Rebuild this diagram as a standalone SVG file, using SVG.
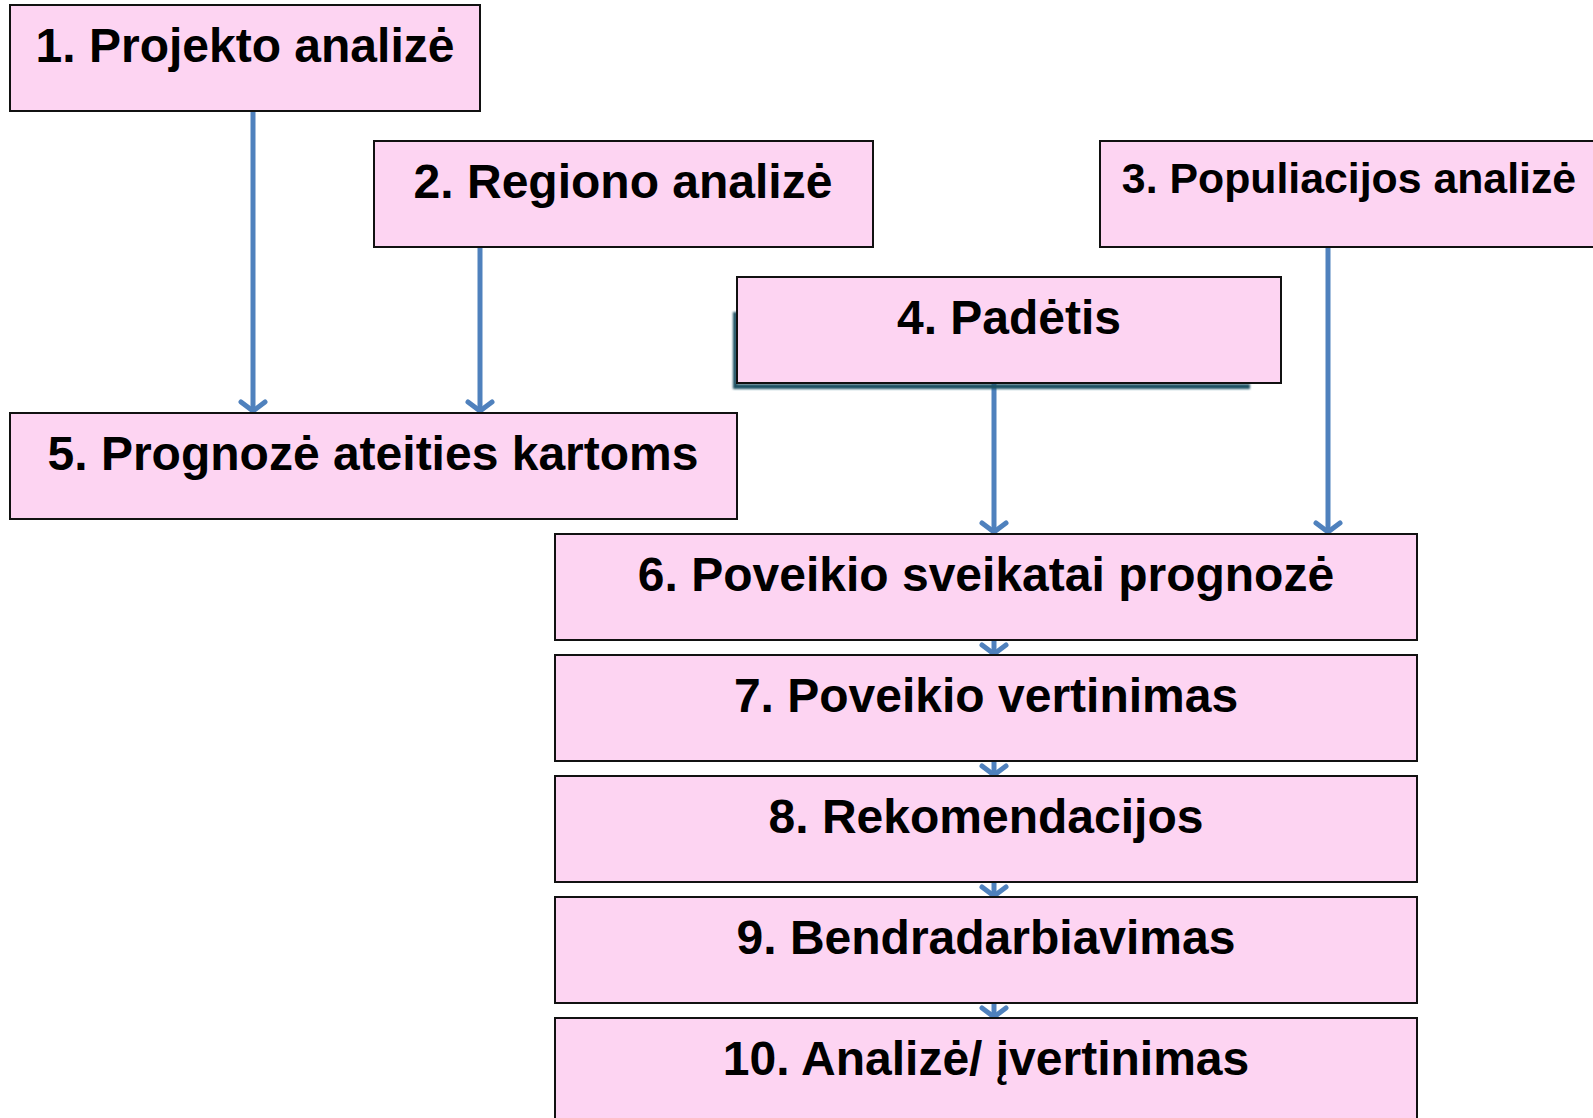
<svg xmlns="http://www.w3.org/2000/svg" width="1593" height="1118" viewBox="0 0 1593 1118">
<style>
.box{fill:#FDD4F2;stroke:#111;stroke-width:2}
.lbl{font-family:"Liberation Sans",Arial,sans-serif;font-weight:bold;font-size:48px;fill:#000;text-anchor:middle}
.con{stroke:#4F81BD;stroke-width:5;fill:none;marker-end:url(#ah)}
</style>
<defs>
<marker id="ah" markerUnits="userSpaceOnUse" viewBox="-16 -16 20 32" markerWidth="20" markerHeight="32" refX="0" refY="0" orient="auto" overflow="visible">
<path d="M-9,-12 L0,0 L-9,12" stroke="#4F81BD" stroke-width="5" stroke-linecap="round" stroke-linejoin="round" fill="none"/>
</marker>
<filter id="blur" x="-5%" y="-20%" width="110%" height="140%"><feGaussianBlur stdDeviation="1.2"/></filter>
</defs>
<rect width="1593" height="1118" fill="#fff"/>
<g id="connectors">
<line class="con" x1="253" y1="111" x2="253" y2="411"/>
<line class="con" x1="480" y1="247" x2="480" y2="411"/>
<line class="con" x1="994" y1="383" x2="994" y2="532"/>
<line class="con" x1="1328" y1="247" x2="1328" y2="532"/>
<line class="con" x1="994" y1="640" x2="994" y2="654"/>
<line class="con" x1="994" y1="761" x2="994" y2="775"/>
<line class="con" x1="994" y1="882" x2="994" y2="896"/>
<line class="con" x1="994" y1="1003" x2="994" y2="1017"/>
</g>
<g id="n1"><rect class="box" x="10" y="5" width="470" height="106"/><text class="lbl" x="245" y="62">1. Projekto analizė</text></g>
<g id="n2"><rect class="box" x="374" y="141" width="499" height="106"/><text class="lbl" x="623" y="198">2. Regiono analizė</text></g>
<g id="n3"><rect class="box" x="1100" y="141" width="500" height="106"/><text class="lbl" x="1349" y="193" style="font-size:42.8px">3. Populiacijos analizė</text></g>
<g id="n4"><path d="M733,312 L733,389 L1250,389 L1250,384 L737,384 L737,312 Z" fill="#1E5163" filter="url(#blur)"/><rect class="box" x="737" y="277" width="544" height="106"/><text class="lbl" x="1009" y="334">4. Padėtis</text></g>
<g id="n5"><rect class="box" x="10" y="413" width="727" height="106"/><text class="lbl" x="373" y="470">5. Prognozė ateities kartoms</text></g>
<g id="n6"><rect class="box" x="555" y="534" width="862" height="106"/><text class="lbl" x="986" y="591">6. Poveikio sveikatai prognozė</text></g>
<g id="n7"><rect class="box" x="555" y="655" width="862" height="106"/><text class="lbl" x="986" y="712">7. Poveikio vertinimas</text></g>
<g id="n8"><rect class="box" x="555" y="776" width="862" height="106"/><text class="lbl" x="986" y="833">8. Rekomendacijos</text></g>
<g id="n9"><rect class="box" x="555" y="897" width="862" height="106"/><text class="lbl" x="986" y="954">9. Bendradarbiavimas</text></g>
<g id="n10"><rect class="box" x="555" y="1018" width="862" height="106"/><text class="lbl" x="986" y="1075">10. Analizė/ įvertinimas</text></g>
</svg>
